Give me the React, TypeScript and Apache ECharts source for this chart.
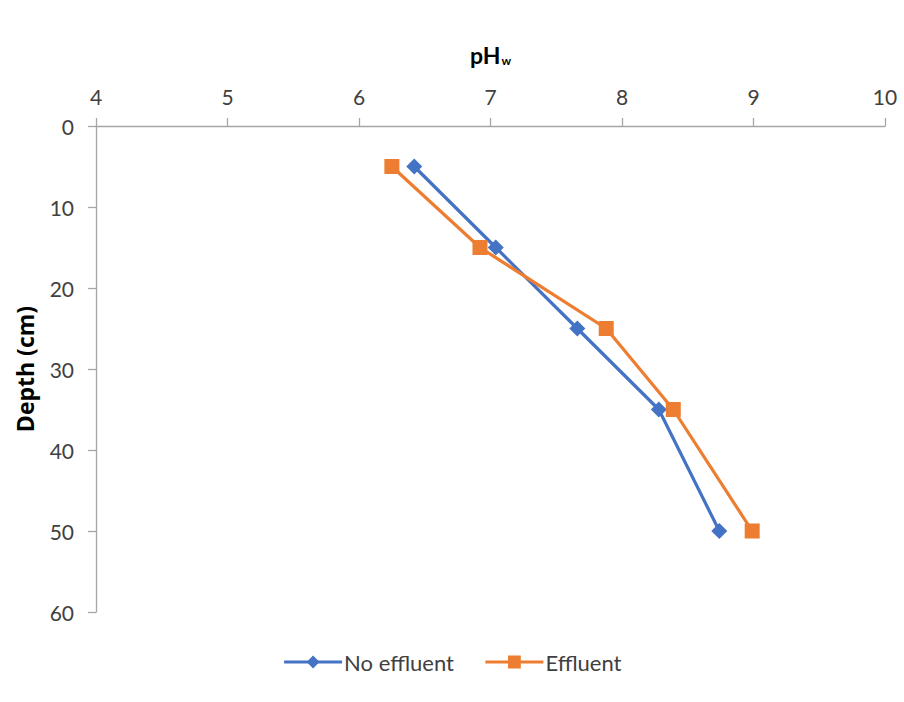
import React, { useEffect, useRef } from "react";
import * as echarts from "echarts";

// Soil depth (cm) for each sampling layer
const depths = [5, 15, 25, 35, 50];
// pH (water) profile without effluent application
const noEffluent = [6.42, 7.04, 7.66, 8.28, 8.74];
// pH (water) profile with effluent application
const effluent = [6.25, 6.92, 7.88, 8.39, 8.99];

const FONT = "Lato, 'Open Sans', sans-serif";

export default function App() {
  const ref = useRef<HTMLDivElement>(null);

  useEffect(() => {
    if (!ref.current) return;
    const chart = echarts.init(ref.current, null, { renderer: "svg" });
    const axisColor = "#a6a6a6";
    const labelColor = "#404040";
    chart.setOption({
      animation: false,
      textStyle: { fontFamily: FONT },
      grid: { left: 96, right: 19, top: 126, bottom: 90 },
      xAxis: {
        type: "value",
        position: "top",
        min: 4,
        max: 10,
        interval: 1,
        name: "{a|pH}{b|w}",
        nameLocation: "middle",
        nameGap: 60,
        nameTextStyle: {
          rich: {
            a: { fontFamily: FONT, fontSize: 23, fontWeight: "bold", color: "#000" },
            b: { fontFamily: FONT, fontSize: 12, fontWeight: "bold", color: "#000", verticalAlign: "bottom", padding: [9, 0, 0, 1] },
          },
        },
        axisLine: { show: true, lineStyle: { color: axisColor, width: 1.3 } },
        axisTick: { show: true, inside: false, length: 8, lineStyle: { color: axisColor, width: 1.3 } },
        axisLabel: { color: labelColor, fontSize: 21, margin: 19, fontFamily: FONT },
        splitLine: { show: false },
      },
      yAxis: {
        type: "value",
        inverse: true,
        min: 0,
        max: 60,
        interval: 10,
        name: "Depth (cm)",
        nameLocation: "middle",
        nameGap: 60,
        nameRotate: 90,
        nameTextStyle: { fontFamily: "'Open Sans', sans-serif", fontSize: 23, fontWeight: "bold", color: "#000" },
        axisLine: { show: true, lineStyle: { color: axisColor, width: 1.3 } },
        axisTick: { show: true, inside: false, length: 8, lineStyle: { color: axisColor, width: 1.3 } },
        axisLabel: { color: labelColor, fontSize: 21, margin: 22, fontFamily: FONT },
        splitLine: { show: false },
      },
      legend: {
        bottom: 24,
        left: "center",
        itemGap: 30,
        itemWidth: 58,
        itemHeight: 16,
        lineStyle: { width: 3 },
        textStyle: { fontFamily: FONT, fontSize: 22, color: labelColor, padding: [0, 0, 0, -3] },
        data: ["No effluent", "Effluent"],
      },
      series: [
        {
          name: "No effluent",
          type: "line",
          data: noEffluent.map((v, i) => [v, depths[i]]),
          symbol: "diamond",
          symbolSize: 16,
          color: "#4472C4",
          lineStyle: { width: 3.2, color: "#4472C4" },
          itemStyle: { color: "#4472C4" },
        },
        {
          name: "Effluent",
          type: "line",
          data: effluent.map((v, i) => [v, depths[i]]),
          symbol: "rect",
          symbolSize: 15,
          color: "#ED7D31",
          lineStyle: { width: 3.2, color: "#ED7D31" },
          itemStyle: { color: "#ED7D31" },
        },
      ],
    });
    return () => chart.dispose();
  }, []);

  return <div ref={ref} style={{ width: 904, height: 702, position: "absolute", left: 0, top: 0 }} />;
}
